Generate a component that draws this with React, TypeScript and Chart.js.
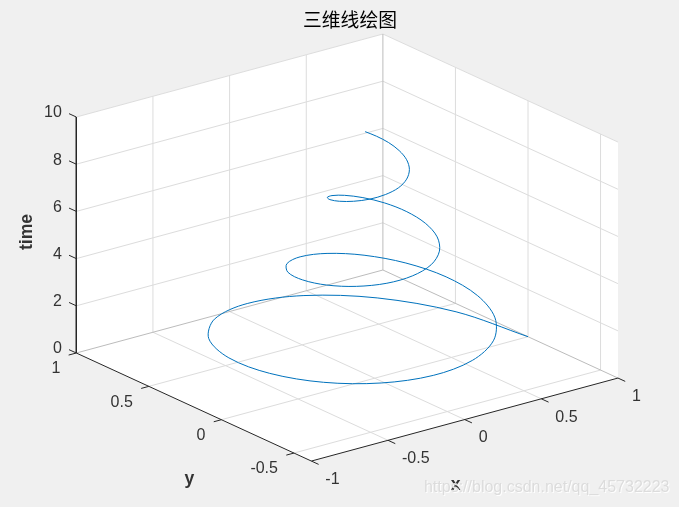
import React, { useEffect, useRef } from "react";
import { Chart, registerables } from "chart.js";

Chart.register(...registerables);

const TITLE = "三维线绘图";
const WATERMARK = "https://blog.csdn.net/qq_45732223";

// Helix values
const timeValues = [0,0.2,0.4,0.6,0.8,1,1.2,1.4,1.6,1.8,2,2.2,2.4,2.6,2.8,3,3.2,3.4,3.6,3.8,4,4.2,4.4,4.6,4.8,5,5.2,5.4,5.6,5.8,6,6.2,6.4,6.6,6.8,7,7.2,7.4,7.6,7.8,8,8.2,8.4,8.6,8.8,9,9.2,9.4,9.6,9.8,10];
const xValues = [1,0.885,0.643,0.321,-0.025,-0.341,-0.58,-0.712,-0.725,-0.626,-0.438,-0.198,0.054,0.279,0.443,0.527,0.524,0.44,0.296,0.118,-0.065,-0.224,-0.337,-0.388,-0.377,-0.309,-0.198,-0.067,0.066,0.178,0.254,0.285,0.27,0.215,0.131,0.034,-0.062,-0.14,-0.191,-0.209,-0.193,-0.149,-0.086,-0.014,0.054,0.109,0.143,0.152,0.138,0.103,0.055];
const yValues = [0,0.374,0.662,0.827,0.852,0.744,0.531,0.253,-0.042,-0.309,-0.507,-0.613,-0.616,-0.525,-0.361,-0.153,0.061,0.25,0.386,0.453,0.445,0.369,0.243,0.089,-0.067,-0.2,-0.293,-0.333,-0.32,-0.258,-0.162,-0.048,0.064,0.158,0.22,0.244,0.229,0.179,0.107,0.023,-0.058,-0.124,-0.165,-0.179,-0.163,-0.124,-0.069,-0.008,0.05,0.096,0.124];

// Axis limits and ticks
const xLim = [-1, 1];
const yLim = [-0.62, 1];
const zLim = [0, 10];
const xTicks = [-1, -0.5, 0, 0.5, 1];
const yTicks = [-0.5, 0, 0.5, 1];
const zTicks = [0, 2, 4, 6, 8, 10];

// View of the 3D box on the chart plane (azimuth -37.5, elevation 30)
const view = { x0: 374.7, y0: 378.2, xx: 153.3, xy: -145.1, yx: -41.5, yy: -66.7, zy: -23.6 };
const project = (x: number, y: number, z: number) => ({
  x: view.x0 + view.xx * x + view.xy * y,
  y: view.y0 + view.yx * x + view.yy * y + view.zy * z,
});
const GAP = { x: NaN, y: NaN };
const segs = (list: number[][][]) => {
  const out: any[] = [];
  list.forEach((s) => {
    s.forEach((p) => out.push(project(p[0], p[1], p[2])));
    out.push(GAP);
  });
  return out;
};

const [x0, x1] = xLim;
const [y0, y1] = yLim;
const [z0, z1] = zLim;

const xGrid = xTicks.filter((v) => v !== x0 && v !== x1);
const yGrid = yTicks.filter((v) => v !== y1);

const gridSegs = segs([
  ...zTicks.filter((z) => z !== z0).map((z) => [[x0, y1, z], [x1, y1, z], [x1, y0, z]]),
  ...xGrid.map((x) => [[x, y1, z0], [x, y1, z1]]),
  ...yGrid.map((y) => [[x1, y, z0], [x1, y, z1]]),
  ...xGrid.map((x) => [[x, y0, z0], [x, y1, z0]]),
  ...yGrid.map((y) => [[x0, y, z0], [x1, y, z0]]),
]);
const edgeSegs = segs([
  [[x0, y1, z0], [x1, y1, z0], [x1, y0, z0]],
  [[x1, y1, z0], [x1, y1, z1]],
]);
const axisSegs = segs([
  [[x0, y1, z1], [x0, y1, z0], [x0, y0, z0], [x1, y0, z0]],
  ...zTicks.map((z) => [[x0, y1, z], [x0, y1 + 0.05, z]]),
  ...yTicks.map((y) => [[x0, y, z0], [x0 - 0.05, y, z0]]),
  ...xTicks.map((x) => [[x, y0, z0], [x, y0 - 0.05, z0]]),
]);
const wallPoints = [
  [x0, y1, z1], [x1, y1, z1], [x1, y0, z1], [x1, y0, z0], [x0, y0, z0], [x0, y1, z0], [x0, y1, z1],
].map((p) => project(p[0], p[1], p[2]));
const curvePoints = timeValues.map((t, i) => project(xValues[i], yValues[i], t));

const TICK_FONT = '16px "Liberation Sans", Arial, sans-serif';
const LABEL_FONT = 'bold 17.6px "Liberation Sans", Arial, sans-serif';
const INK = "#333333";

const labelsPlugin = {
  id: "boxLabels",
  afterDatasetsDraw(chart: any) {
    const { ctx, scales } = chart;
    const px = (p: { x: number; y: number }) => ({
      x: scales.x.getPixelForValue(p.x),
      y: scales.y.getPixelForValue(p.y),
    });
    ctx.save();
    ctx.font = TICK_FONT;
    ctx.fillStyle = INK;
    ctx.textBaseline = "middle";
    ctx.textAlign = "right";
    zTicks.forEach((z) => {
      const p = px(project(x0, y1, z));
      ctx.fillText(String(z), p.x - 14.5, p.y - 4);
    });
    yTicks.forEach((y) => {
      const p = px(project(x0, y, z0));
      ctx.fillText(String(y), p.x - 16, p.y + 16);
    });
    ctx.textAlign = "left";
    xTicks.forEach((x) => {
      const p = px(project(x, y0, z0));
      ctx.fillText(String(x), p.x + 14, p.y + 18.5);
    });
    ctx.font = LABEL_FONT;
    ctx.textAlign = "center";
    const xl = px(project(0, y0, z0));
    ctx.fillText("x", xl.x - 9, xl.y + 66);
    const yl = px(project(x0, 0, z0));
    ctx.fillText("y", yl.x - 32, yl.y + 59);
    const zl = px(project(x0, y1, 5));
    ctx.translate(zl.x - 49.5, zl.y - 3);
    ctx.rotate(-Math.PI / 2);
    ctx.fillText("time", 0, 0);
    ctx.restore();

    ctx.save();
    ctx.font = '16px "Liberation Sans", Arial, sans-serif';
    ctx.textAlign = "right";
    ctx.textBaseline = "middle";
    ctx.fillStyle = "rgba(255,255,255,0.9)";
    ctx.fillText(WATERMARK, 670.5, 489);
    ctx.fillStyle = "#dcdcdc";
    ctx.fillText(WATERMARK, 669.5, 488);
    ctx.restore();
  },
};

export default function App() {
  const ref = useRef<HTMLCanvasElement | null>(null);
  useEffect(() => {
    if (!ref.current) return;
    const line = (data: any[], color: string, extra: any = {}) => ({
      data,
      borderColor: color,
      borderWidth: 1,
      pointRadius: 0,
      showLine: true,
      spanGaps: false,
      tension: 0,
      clip: false,
      ...extra,
    });
    const chart = new Chart(ref.current, {
      type: "scatter",
      data: {
        datasets: [
          line(curvePoints, "#0072BD", { label: "curve", tension: 0.33 }),
          line(axisSegs, "#262626", { label: "axes" }),
          line(edgeSegs, "#bcbcbc", { label: "edges" }),
          line(gridSegs, "#dcdcdc", { label: "grid" }),
          line(wallPoints, "#ffffff", { label: "walls", borderWidth: 0, fill: "shape", backgroundColor: "#ffffff" }),
        ],
      } as any,
      options: {
        animation: false,
        responsive: false,
        layout: { padding: { left: 21, top: 0, right: 0, bottom: 0 } },
        plugins: {
          legend: { display: false },
          tooltip: { enabled: false },
          title: {
            display: true,
            text: TITLE,
            color: "#000000",
            font: { family: '"Noto Sans CJK SC"', size: 18.8, weight: "normal", lineHeight: 1 },
            padding: { top: 10.6, bottom: 1.6 },
          },
        },
        scales: {
          x: { type: "linear", display: false, min: 21, max: 679 },
          y: { type: "linear", display: false, min: 31, max: 507, reverse: true },
        },
      } as any,
      plugins: [labelsPlugin],
    });
    return () => chart.destroy();
  }, []);
  return (
    <div style={{ position: "fixed", left: 0, top: 0, width: 679, height: 507, background: "#f0f0f0" }}>
      <canvas ref={ref} width={679} height={507} style={{ display: "block" }} />
    </div>
  );
}
